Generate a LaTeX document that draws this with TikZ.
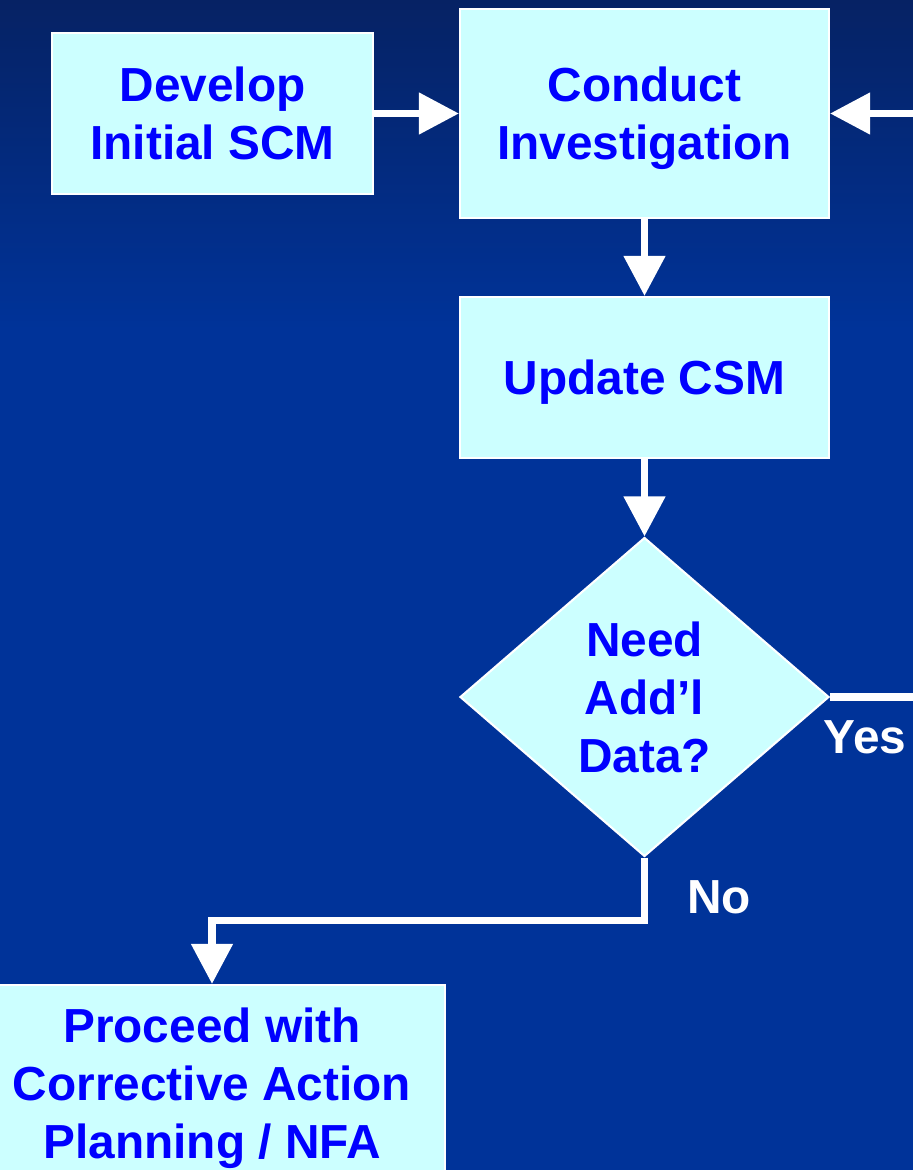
\documentclass[tikz,border=0pt]{standalone}
\usepackage{fontspec}
\setmainfont{Liberation Sans}
\usetikzlibrary{arrows.meta,shapes.geometric}
\definecolor{slidetop}{RGB}{6,34,100}
\definecolor{slideblue}{RGB}{0,51,153}
\definecolor{boxcyan}{RGB}{204,255,255}
\definecolor{boxtext}{RGB}{0,0,255}
\tikzset{
  stepbox/.style={rectangle, draw=white, line width=1.2pt, fill=boxcyan, text=boxtext,
    font=\fontsize{27.2}{33}\selectfont\bfseries, align=center, inner sep=0pt, text depth=0pt},
  choice/.style={stepbox, diamond, aspect=1.16},
  flow/.style={white, line width=4.3pt, -{Triangle[length=0.8cm,width=0.8cm]}},
  answer/.style={text=white, font=\fontsize{27.2}{33}\selectfont\bfseries}
}
\begin{document}
\begin{tikzpicture}[x=0.02cm,y=-0.02cm]
\useasboundingbox (0,0) rectangle (913,1170);
\clip (0,0) rectangle (913,1170);
% slide background
\fill[slideblue] (0,0) rectangle (913,1170);
\shade[top color=slidetop, bottom color=slideblue] (0,0) rectangle (913,330);

\node[stepbox, minimum width=6.42cm, minimum height=3.22cm] (scm) at (212.5,113.5) {Develop\\Initial SCM};
\node[stepbox, minimum width=7.38cm, minimum height=4.18cm] (inv) at (644.5,113.5) {Conduct\\Investigation};
\node[stepbox, minimum width=7.38cm, minimum height=3.22cm] (csm) at (644.5,377.5) {Update CSM};
\node[choice, minimum width=7.38cm, minimum height=6.38cm] (dec) at (644.5,697) {Need\\Add’l\\Data?};
\node[stepbox, minimum width=9.32cm, minimum height=3.92cm] (pro) at (212,1083) {Proceed with\\Corrective Action\\Planning / NFA};

\draw[flow] (scm) -- (inv);
\draw[flow] (inv) -- (csm);
\draw[flow] (csm) -- (dec);
\draw[flow] (dec.east) -- (940,697) |- (inv.east);
\draw[flow] (dec.south) -- ++(0,63) -| (pro.north);

\node[answer] (yes) at (865,737) {Yes};
\node[answer] (no) at (719,897) {No};
\end{tikzpicture}
\end{document}
